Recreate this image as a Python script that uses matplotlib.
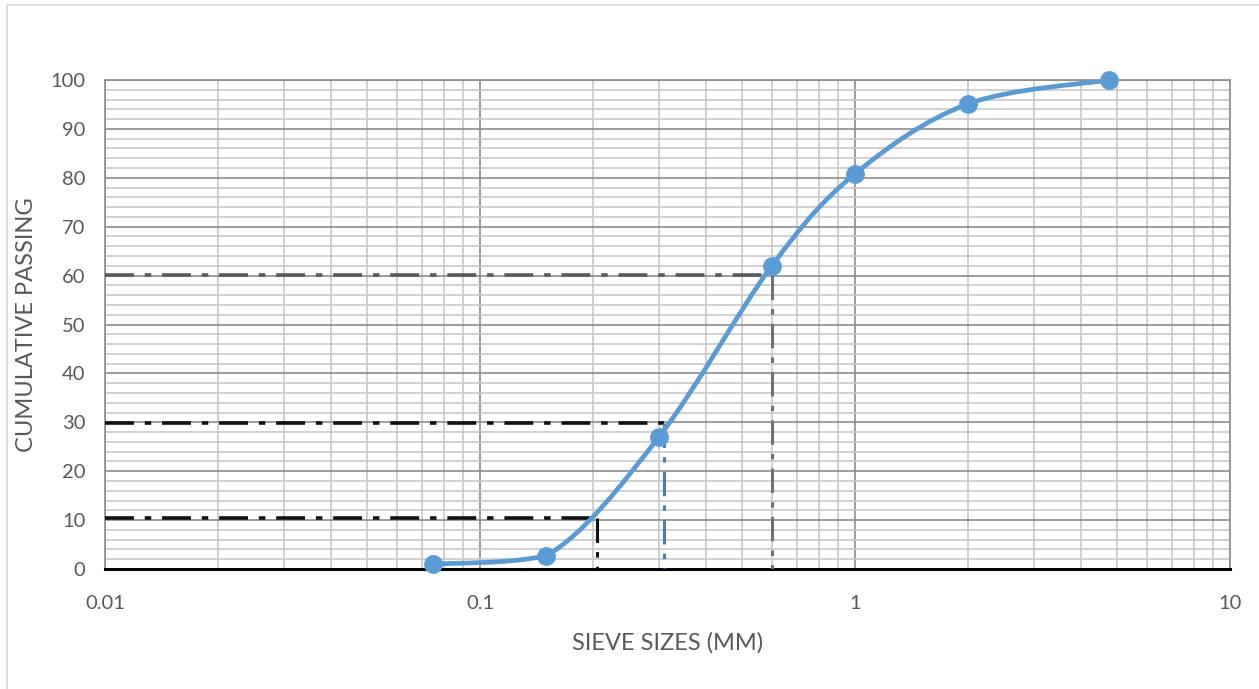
import numpy as np
import matplotlib
matplotlib.use("Agg")
import matplotlib.pyplot as plt
from matplotlib.path import Path
from matplotlib.patches import PathPatch, Rectangle
from matplotlib.ticker import LogLocator, FixedLocator, NullFormatter, FuncFormatter

plt.rcParams['font.family'] = ['Lato', 'DejaVu Sans']

# Sieve analysis data
sieve_mm = [0.075, 0.15, 0.3, 0.6, 1.0, 2.0, 4.75]
passing = [1.0, 2.7, 27.0, 62.0, 80.8, 95.1, 100.0]

# Characteristic diameters (D10, D30, D60)
d_percent = [10.5, 29.9, 60.1]
d_size = [0.205, 0.31, 0.6]
d_colors = ['#111111', '#111111', '#5a5a5a']
d_vcolors = ['#111111', '#4a7fb5', '#707070']

x_ticks = [0.01, 0.1, 1, 10]
y_ticks = list(range(0, 101, 10))

fig = plt.figure(figsize=(12.59, 6.89), dpi=100)
ax = fig.add_axes([105/1259, 1 - 569/689, (1230 - 105)/1259, (569 - 80)/689])
ax.set_xscale('log')
ax.set_xlim(0.01, 10)
ax.set_ylim(0, 100)

# Grid
ax.xaxis.set_major_locator(FixedLocator(x_ticks))
ax.xaxis.set_minor_locator(LogLocator(base=10, subs=np.arange(2, 10)))
ax.xaxis.set_minor_formatter(NullFormatter())
ax.xaxis.set_major_formatter(FuncFormatter(lambda v, p: f"{v:g}"))
ax.yaxis.set_major_locator(FixedLocator(y_ticks))
ax.yaxis.set_minor_locator(FixedLocator([v for v in range(0, 101, 2) if v % 10]))
ax.grid(which='major', color='#8c8c8c', linewidth=1.2)
ax.grid(which='minor', color='#c8c8c8', linewidth=1.2)
ax.set_axisbelow(True)
ax.tick_params(which='both', length=0)
ax.tick_params(axis='y', labelsize=14.5, labelcolor='#595959', pad=14)
ax.tick_params(axis='x', labelsize=14.5, labelcolor='#595959', pad=19)
for side in ['top', 'right', 'left']:
    ax.spines[side].set_color('#8c8c8c')
    ax.spines[side].set_linewidth(1.2)
ax.spines['bottom'].set_color('#000000')
ax.spines['bottom'].set_linewidth(2.2)

# Construction lines for D10, D30, D60
dash = (0, (8, 3, 1.8, 3))
for p, d, hc, vc in zip(d_percent, d_size, d_colors, d_vcolors):
    ax.plot([0.01, d], [p, p], color=hc, linewidth=2.6, linestyle=dash, zorder=3)
    ax.plot([d, d], [p, 0], color=vc, linewidth=2.2, linestyle=dash, zorder=3)

# Smoothed gradation curve (Bezier in log-x space, control points kept
# within each segment's range so the curve stays monotone)
lx = np.log10(sieve_mm)
py = np.array(passing)
verts = [(sieve_mm[0], passing[0])]
codes = [Path.MOVETO]
n = len(lx)
for i in range(n - 1):
    x0, y0 = (lx[i - 1], py[i - 1]) if i > 0 else (lx[i], py[i])
    x1, y1 = lx[i], py[i]
    x2, y2 = lx[i + 1], py[i + 1]
    x3, y3 = (lx[i + 2], py[i + 2]) if i + 2 < n else (lx[i + 1], py[i + 1])
    lo, hi = min(y1, y2), max(y1, y2)
    c1 = (x1 + (x2 - x0) / 6, np.clip(y1 + (y2 - y0) / 6, lo, hi))
    c2 = (x2 - (x3 - x1) / 6, np.clip(y2 - (y3 - y1) / 6, lo, hi))
    verts += [(10 ** c1[0], c1[1]), (10 ** c2[0], c2[1]), (10 ** x2, y2)]
    codes += [Path.CURVE4] * 3
curve = PathPatch(Path(verts, codes), facecolor='none', edgecolor='#5b9bd5',
                  linewidth=3.4, zorder=4, capstyle='round')
ax.add_patch(curve)
ax.plot(sieve_mm, passing, linestyle='none', marker='o', markersize=12.5,
        color='#5b9bd5', zorder=5, clip_on=False)

ax.set_xlabel('SIEVE SIZES (MM)', fontsize=17, color='#595959', labelpad=14)
ax.set_ylabel('CUMULATIVE PASSING', fontsize=17, color='#595959', labelpad=10)

# Chart area border
fig.patches.append(Rectangle((7/1259, -0.01), 1.0, 1 - 5/689 + 0.01,
                             transform=fig.transFigure, fill=False,
                             edgecolor='#d9d9d9', linewidth=1.2))

fig.savefig('out.png', dpi=100)
